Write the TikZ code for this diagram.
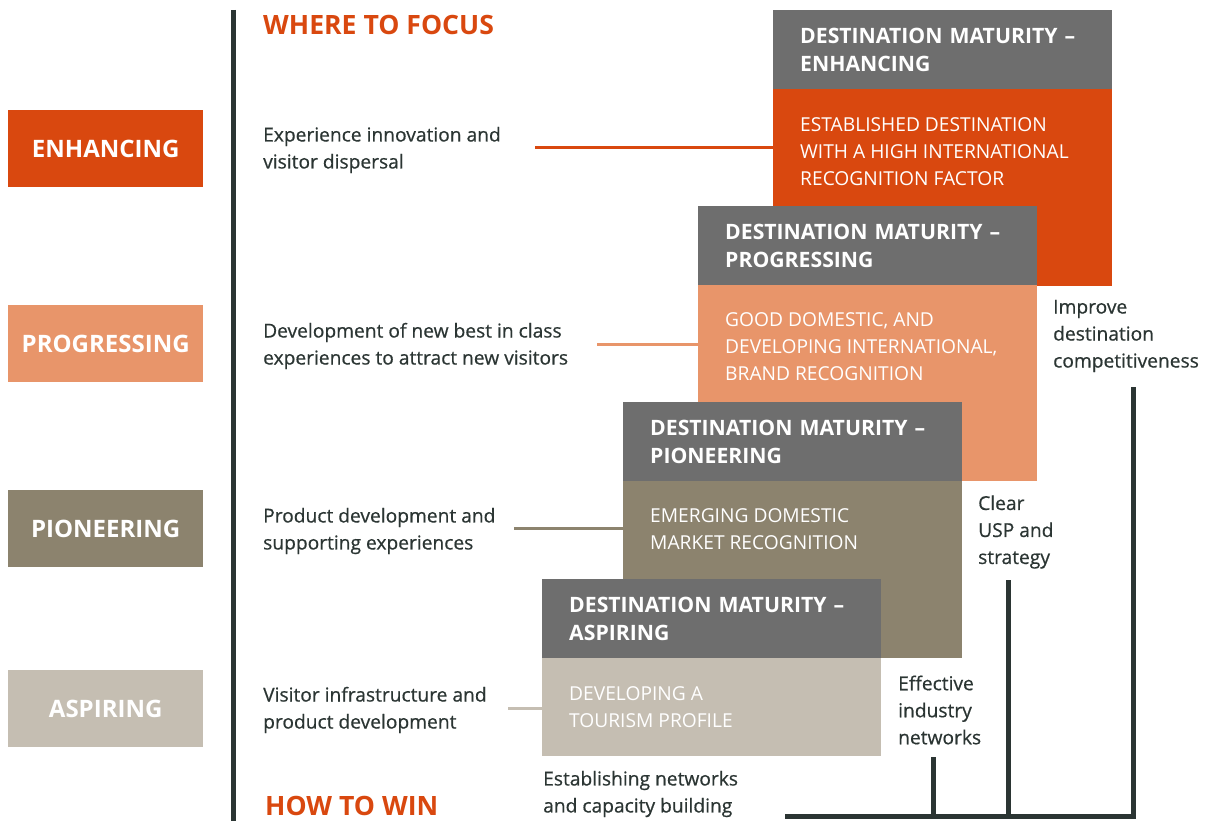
\documentclass[tikz,border=0pt]{standalone}
\usepackage{fontspec}
\setmainfont{Open Sans}
\newfontfamily\descfont{Open Sans}[FakeBold=0.6]
\usetikzlibrary{positioning}

\definecolor{enhorange}{HTML}{D9480F}
\definecolor{progorange}{HTML}{E8956A}
\definecolor{pionbrown}{HTML}{8C836E}
\definecolor{aspbeige}{HTML}{C5BEB2}
\definecolor{headgrey}{HTML}{6E6E6E}
\definecolor{darkline}{HTML}{2B3533}

\tikzset{
  stagebox/.style={fill=#1, text=white, inner sep=0, anchor=north west,
    minimum width=195, minimum height=77,
    font=\fontsize{24}{28}\selectfont\bfseries},
  headbox/.style={fill=headgrey, text=white, anchor=north west, align=left,
    inner xsep=27, inner ysep=0, text width=285, minimum height=79,
    font=\fontsize{21.2}{28.5}\selectfont\bfseries},
  bodybox/.style={fill=#1, anchor=north west, inner sep=0,
    minimum width=339},
  bodytext/.style={text=white, anchor=north west, align=left, inner sep=0,
    font=\fontsize{19.2}{27}\selectfont},
  desc/.style={text=darkline, anchor=west, align=left, inner sep=0,
    font=\descfont\fontsize{19.2}{27}\selectfont},
  focustitle/.style={text=enhorange, anchor=west, inner sep=0,
    font=\fontsize{26.6}{30}\selectfont\bfseries},
  link/.style={draw=#1, line width=3},
  bracket/.style={draw=darkline, line width=5}
}

\begin{document}
\begin{tikzpicture}[x=1pt, y=-1pt]
  \useasboundingbox (0,0) rectangle (1209,821);

  % stages on the left
  \node[stagebox=enhorange] (enhStage) at (8,110) {ENHANCING};
  \node[stagebox=progorange] (progStage) at (8,305) {PROGRESSING};
  \node[stagebox=pionbrown] (pionStage) at (8,490) {PIONEERING};
  \node[stagebox=aspbeige] (aspStage) at (8,670) {ASPIRING};

  % spine
  \draw[bracket] (233,10) -- (233,821);

  \node[focustitle] (focusTitle) at (263,25) {WHERE TO FOCUS};
  \node[focustitle] (winTitle) at (265,806) {HOW TO WIN};

  % where to focus
  \node[desc] (enhDesc) at (263,150) {Experience innovation and\\visitor dispersal};
  \node[desc] (progDesc) at (263,346) {Development of new best in class\\experiences to attract new visitors};
  \node[desc] (pionDesc) at (263,531) {Product development and\\supporting experiences};
  \node[desc] (aspDesc) at (263,710) {Visitor infrastructure and\\product development};

  % maturity steps
  \node[headbox] (enhHead) at (773,10) {DESTINATION MATURITY –\\ENHANCING};
  \node[bodybox=enhorange, minimum height=197] (enhBody) at (773,89) {};
  \node[bodytext] (enhText) at ([xshift=27, yshift=-28]enhBody.north west)
    {ESTABLISHED DESTINATION\\WITH A HIGH INTERNATIONAL\\RECOGNITION FACTOR};

  \node[headbox] (progHead) at (698,206) {DESTINATION MATURITY –\\PROGRESSING};
  \node[bodybox=progorange, minimum height=196] (progBody) at (698,285) {};
  \node[bodytext] (progText) at ([xshift=27, yshift=-27]progBody.north west)
    {GOOD DOMESTIC, AND\\DEVELOPING INTERNATIONAL,\\BRAND RECOGNITION};

  \node[headbox] (pionHead) at (623,402) {DESTINATION MATURITY –\\PIONEERING};
  \node[bodybox=pionbrown, minimum height=177] (pionBody) at (623,481) {};
  \node[bodytext] (pionText) at ([xshift=27, yshift=-27]pionBody.north west)
    {EMERGING DOMESTIC\\MARKET RECOGNITION};

  \node[headbox] (aspHead) at (542,579) {DESTINATION MATURITY –\\ASPIRING};
  \node[bodybox=aspbeige, minimum height=98] (aspBody) at (542,658) {};
  \node[bodytext] (aspText) at ([xshift=27, yshift=-28]aspBody.north west)
    {DEVELOPING A\\TOURISM PROFILE};

  % links
  \coordinate (enhLink) at (535,148);
  \coordinate (progLink) at (597,344);
  \coordinate (pionLink) at (514,528);
  \coordinate (aspLink) at (508,708);
  \draw[link=enhorange] (enhLink) -- (enhLink -| enhBody.west);
  \draw[link=progorange] (progLink) -- (progLink -| progBody.west);
  \draw[link=pionbrown] (pionLink) -- (pionLink -| pionBody.west);
  \draw[link=aspbeige] (aspLink) -- (aspLink -| aspBody.west);

  % how to win
  \node[desc] (improveLbl) at (1053,336) {Improve\\destination\\competitiveness};
  \node[desc] (clearLbl) at (978,532) {Clear\\USP and\\strategy};
  \node[desc] (effectLbl) at (898,710) {Effective\\industry\\networks};
  \node[desc] (establishLbl) at (543,794) {Establishing networks\\and capacity building};

  \coordinate (baseL) at (785,816);
  \coordinate (baseR) at (1136,816);
  \coordinate (improveFoot) at (1133,387);
  \coordinate (clearFoot) at (1008,580);
  \coordinate (effectFoot) at (933,757);
  \draw[bracket] (baseL) -- (baseR);
  \draw[bracket] (improveFoot) -- (improveFoot |- baseR);
  \draw[bracket] (clearFoot) -- (clearFoot |- baseR);
  \draw[bracket] (effectFoot) -- (effectFoot |- baseR);
\end{tikzpicture}
\end{document}
